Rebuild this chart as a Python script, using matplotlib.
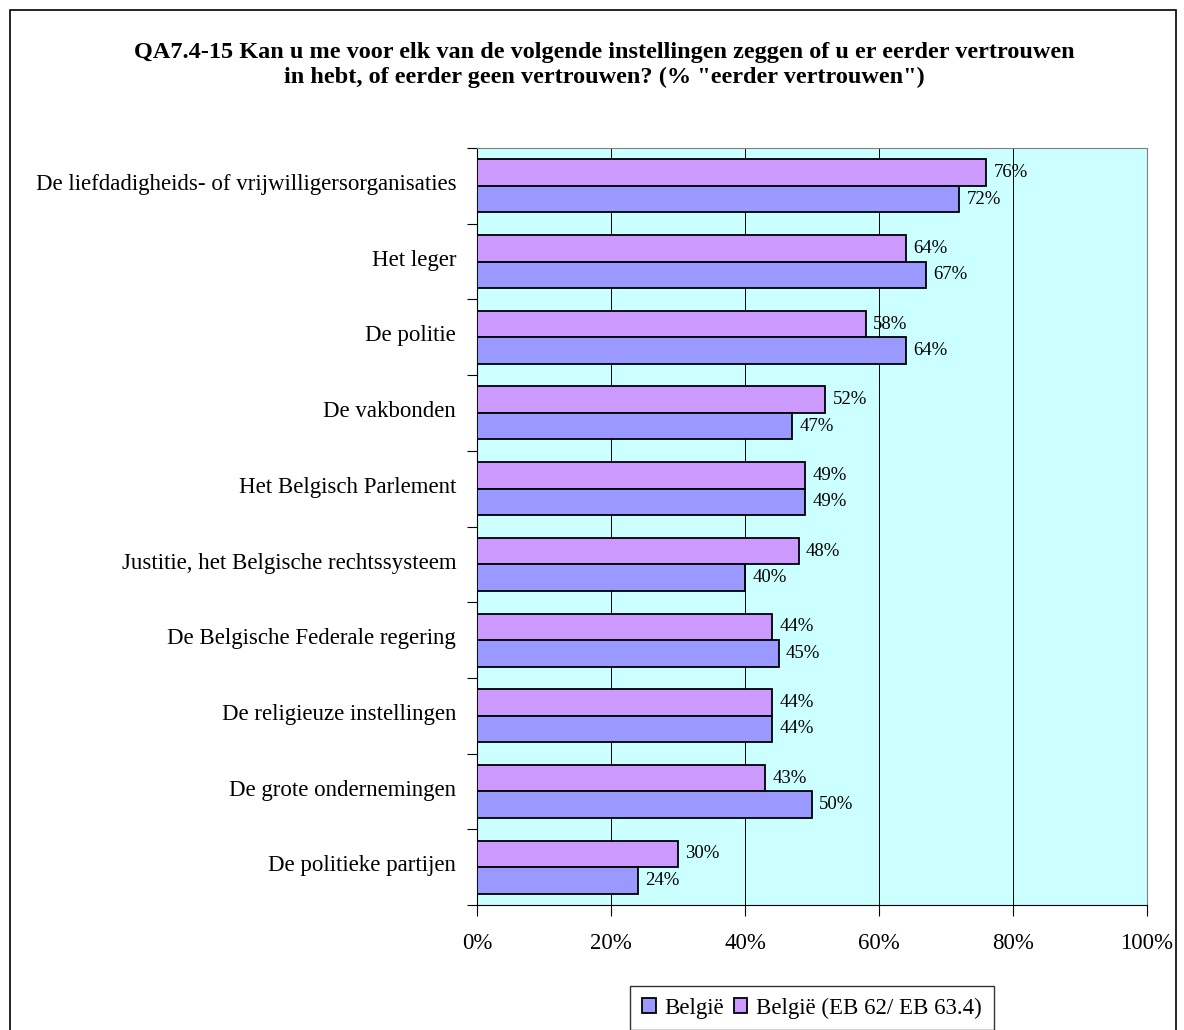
import numpy as np
import matplotlib.pyplot as plt
from matplotlib.patches import Rectangle

plt.rcParams['font.family'] = ['Liberation Serif', 'DejaVu Serif']

categories = ['De liefdadigheids- of vrijwilligersorganisaties', 'Het leger', 'De politie',
              'De vakbonden', 'Het Belgisch Parlement', 'Justitie, het Belgische rechtssysteem',
              'De Belgische Federale regering', 'De religieuze instellingen',
              'De grote ondernemingen', 'De politieke partijen']
belgie = [72, 67, 64, 47, 49, 40, 45, 44, 50, 24]
belgie_eb = [76, 64, 58, 52, 49, 48, 44, 44, 43, 30]
xticks = [0, 20, 40, 60, 80, 100]
title = 'QA7.4-15 Kan u me voor elk van de volgende instellingen zeggen of u er eerder vertrouwen\nin hebt, of eerder geen vertrouwen? (% "eerder vertrouwen")'

fig = plt.figure(figsize=(11.84, 10.3), dpi=100)
# outer chart border
fig.patches.append(Rectangle((10 / 1184, -0.01), 1166 / 1184, 1 - 10 / 1030 + 0.01,
                             transform=fig.transFigure, fill=False, edgecolor='black', lw=1.2))
ax = fig.add_axes([477 / 1184, 1 - 905 / 1030, 670 / 1184, 757 / 1030])
ax.set_facecolor('#CCFFFF')

n = len(categories)
y = np.arange(n)
h = 0.35
ax.barh(y - h / 2, belgie_eb, height=h, color='#CC99FF', edgecolor='black', lw=1.3,
        label='België (EB 62/ EB 63.4)', zorder=3)
ax.barh(y + h / 2, belgie, height=h, color='#9999FF', edgecolor='black', lw=1.3,
        label='België', zorder=3)
for i in range(n):
    ax.text(belgie_eb[i] + 1.1, y[i] - h / 2, '%d%%' % belgie_eb[i], va='center', ha='left',
            fontsize=13.5, zorder=4)
    ax.text(belgie[i] + 1.1, y[i] + h / 2, '%d%%' % belgie[i], va='center', ha='left',
            fontsize=13.5, zorder=4)

ax.set_xlim(0, 100)
ax.set_ylim(n - 0.5, -0.5)
ax.set_xticks(xticks)
ax.set_xticklabels(['%d%%' % t for t in xticks], fontsize=16.5)
ax.tick_params(axis='x', direction='out', length=8, pad=12, color='black')
ax.set_yticks(np.arange(n + 1) - 0.5)
ax.set_yticklabels([])
ax.set_yticks(y - 0.05, minor=True)
ax.set_yticklabels(categories, minor=True, fontsize=16.5)
ax.tick_params(axis='y', which='major', direction='out', length=7)
ax.tick_params(axis='y', which='minor', length=0, pad=15)
ax.grid(axis='x', color='black', lw=0.7, zorder=1)
for s in ['top', 'right']:
    ax.spines[s].set_color('#808080')
ax.spines['left'].set_color('black')
ax.spines['bottom'].set_color('black')

fig.text(604 / 1184, 1 - 65 / 1030, title, ha='center', va='center', fontsize=17.5,
         fontweight='bold', linespacing=1.2)

handles, labels = ax.get_legend_handles_labels()
leg = fig.legend(handles[::-1], labels[::-1], loc='upper center',
                 bbox_to_anchor=(812 / 1184, 1 - 986 / 1030),
                 ncol=2, fontsize=16.5, frameon=True, fancybox=False, edgecolor='black',
                 handlelength=0.6, handleheight=0.6, handletextpad=0.4, columnspacing=0.4,
                 borderpad=0.5, borderaxespad=0)
leg.get_frame().set_linewidth(1.0)

fig.savefig('out.png', dpi=100)
